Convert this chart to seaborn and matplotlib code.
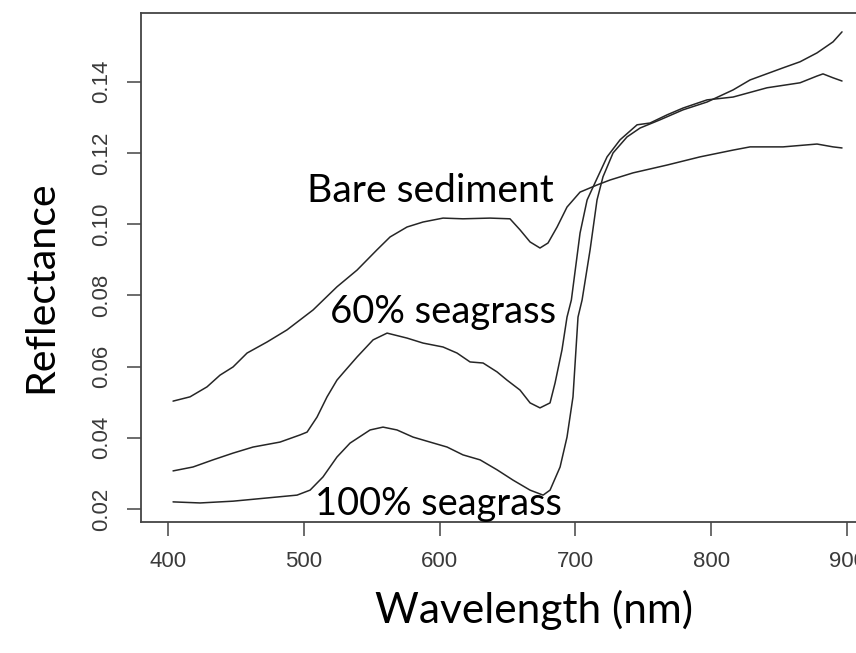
import matplotlib
matplotlib.use("Agg")
import matplotlib.pyplot as plt
import seaborn as sns
import pandas as pd

# ---------------- data ----------------
bare_wl = [403.7, 416.2, 428.7, 438.3, 447.9, 458.2, 472.9, 487.6, 497.2, 506.8,
           524.4, 539.2, 553.9, 563.5, 576.0, 587.8, 602.5, 617.2, 637.1, 651.8,
           659.2, 666.6, 673.9, 679.8, 686.5, 693.8, 703.4, 715.9, 725.5, 742.4,
           767.5, 791.8, 816.1, 828.6, 852.9, 877.9, 889.7, 896.3]
bare_r = [0.0503, 0.0515, 0.0543, 0.0576, 0.0599, 0.0638, 0.0669, 0.0703, 0.0731, 0.0759,
          0.0824, 0.0871, 0.0928, 0.0964, 0.0992, 0.1006, 0.1017, 0.1015, 0.1017, 0.1015,
          0.0984, 0.0950, 0.0933, 0.0947, 0.0992, 0.1048, 0.1090, 0.1110, 0.1124, 0.1144,
          0.1166, 0.1189, 0.1208, 0.1217, 0.1217, 0.1225, 0.1217, 0.1214]

sg60_wl = [403.7, 418.4, 433.1, 447.9, 462.6, 482.5, 497.2, 502.4, 509.7, 517.1,
           524.4, 528.9, 539.2, 551.0, 561.3, 576.0, 587.8, 602.5, 612.8, 622.4,
           632.0, 642.3, 649.6, 659.2, 666.6, 673.9, 681.3, 685.0, 690.1, 693.8,
           697.0, 703.4, 708.6, 714.4, 723.3, 732.9, 745.4, 754.9, 767.5, 779.2,
           796.9, 816.1, 841.1, 865.4, 877.9, 882.3, 889.7, 896.3]
sg60_r = [0.0307, 0.0318, 0.0338, 0.0357, 0.0374, 0.0388, 0.0408, 0.0416, 0.0458, 0.0515,
          0.0562, 0.0582, 0.0627, 0.0675, 0.0694, 0.0680, 0.0666, 0.0655, 0.0638, 0.0613,
          0.0610, 0.0585, 0.0562, 0.0534, 0.0498, 0.0484, 0.0498, 0.0554, 0.0647, 0.0739,
          0.0787, 0.0975, 0.1068, 0.1116, 0.1189, 0.1237, 0.1279, 0.1284, 0.1307, 0.1326,
          0.1349, 0.1357, 0.1383, 0.1397, 0.1416, 0.1422, 0.1411, 0.1402]

sg100_wl = [403.7, 423.6, 447.9, 472.9, 495.0, 504.6, 514.1, 524.4, 534.0, 548.8,
            558.3, 568.6, 580.4, 592.9, 605.5, 617.2, 629.8, 642.3, 654.1, 666.6,
            676.2, 681.3, 688.7, 693.8, 698.2, 701.9, 704.9, 710.8, 715.9, 720.3,
            727.7, 738.0, 747.6, 762.3, 779.2, 796.9, 816.1, 828.6, 852.9, 865.4,
            877.9, 889.7, 896.3]
sg100_r = [0.0220, 0.0217, 0.0222, 0.0231, 0.0239, 0.0253, 0.0290, 0.0346, 0.0385, 0.0422,
           0.0430, 0.0422, 0.0402, 0.0388, 0.0374, 0.0352, 0.0338, 0.0310, 0.0281, 0.0253,
           0.0239, 0.0253, 0.0318, 0.0402, 0.0515, 0.0739, 0.0787, 0.0928, 0.1068, 0.1133,
           0.1200, 0.1245, 0.1270, 0.1293, 0.1321, 0.1343, 0.1377, 0.1405, 0.1439, 0.1456,
           0.1481, 0.1512, 0.1540]

series_names = ["Bare sediment", "60% seagrass", "100% seagrass"]
label_wl = [592.9, 602.5, 598.8]
label_r = [0.1062, 0.0722, 0.0183]

x_ticks = [400, 500, 600, 700, 800, 900]
x_tick_labels = ["400", "500", "600", "700", "800", "900"]
y_ticks = [0.02, 0.04, 0.06, 0.08, 0.10, 0.12, 0.14]
y_tick_labels = ["0.02", "0.04", "0.06", "0.08", "0.10", "0.12", "0.14"]

x_title = "Wavelength (nm)"
y_title = "Reflectance"

# ---------------- figure ----------------
sns.set_theme(style="white")
plt.rcParams["font.family"] = ["Liberation Sans", "DejaVu Sans"]

W, H = 856, 653
fig = plt.figure(figsize=(W / 100, H / 100), dpi=100)
ax = fig.add_axes([141 / W, (H - 522) / H, 733.2 / W, 509 / H])

df = pd.concat([
    pd.DataFrame({"wl": bare_wl, "r": bare_r, "series": series_names[0]}),
    pd.DataFrame({"wl": sg60_wl, "r": sg60_r, "series": series_names[1]}),
    pd.DataFrame({"wl": sg100_wl, "r": sg100_r, "series": series_names[2]}),
])

sns.lineplot(data=df, x="wl", y="r", hue="series", palette=["#262626"] * 3,
             estimator=None, sort=False, legend=False, linewidth=1.1, ax=ax)

ax.set_xlim(380.1, 920)
ax.set_ylim(0.01635, 0.1593)
ax.set_xticks(x_ticks)
ax.set_xticklabels(x_tick_labels)
ax.set_yticks(y_ticks)
ax.set_yticklabels(y_tick_labels, rotation=90, va="center")

ax.tick_params(axis="both", direction="out", length=10, width=1.1, color="#444444",
               labelsize=16, labelcolor="#3a3a3a", pad=11, left=True, bottom=True)
for s in ["left", "bottom", "top", "right"]:
    ax.spines[s].set_color("#444444")
    ax.spines[s].set_linewidth(1.3)
ax.grid(False)

ax.set_xlabel(x_title, family=["Lato", "DejaVu Sans"], color="black")
ax.set_ylabel(y_title, family=["Lato", "DejaVu Sans"], color="black")
ax.xaxis.set_label_coords((534 - 141) / 733.2, (522 - 623) / 509)
ax.xaxis.label.set_va("baseline")
ax.xaxis.label.set_ha("center")
ax.yaxis.set_label_coords((52 - 141) / 733.2, (522 - 287) / 509)
ax.yaxis.label.set_rotation_mode("anchor")
ax.yaxis.label.set_va("baseline")
ax.yaxis.label.set_ha("center")

texts = []
for name, xw, yr in zip(series_names, label_wl, label_r):
    t = ax.text(xw, yr, name, ha="center", va="baseline", color="black",
                family=["Lato", "DejaVu Sans"], fontsize=28)
    texts.append(t)

# fit font sizes to measured widths in the reference
targets = [(texts[0], 247, "w"), (texts[1], 226, "w"), (texts[2], 247, "w"),
           (ax.xaxis.label, 318, "w"), (ax.yaxis.label, 213, "h")]
ax.xaxis.label.set_fontsize(28)
ax.yaxis.label.set_fontsize(28)
for _ in range(2):
    fig.canvas.draw()
    r = fig.canvas.get_renderer()
    for t, tgt, dim in targets:
        bb = t.get_window_extent(r)
        cur = bb.width if dim == "w" else bb.height
        t.set_fontsize(t.get_fontsize() * tgt / cur)

fig.savefig("out.png", dpi=100, facecolor="white")
